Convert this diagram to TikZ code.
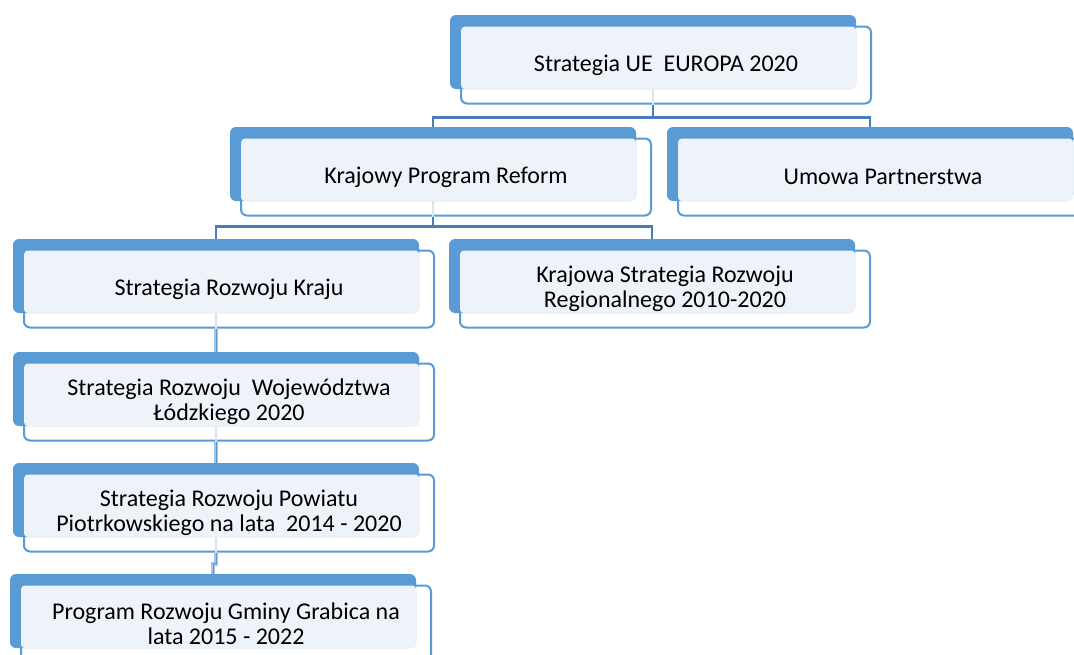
\documentclass[tikz,border=0pt]{standalone}
\usepackage{fontspec}
\setmainfont{Carlito}
\definecolor{bblue}{HTML}{5B9BD5}
\definecolor{lfill}{HTML}{EEF3FA}
\definecolor{cline}{HTML}{4A7EBB}
\definecolor{cline2}{HTML}{A7C3E3}
\definecolor{faintc}{HTML}{D9E5F2}
\newcommand\diagbox[4]{%
  \node[frontbox] (f#1) at (#2+216, #3+50) {};
  \node[backbox] (k#1) at (#2+203, #3+37) {};
  \fill[lfill, rounded corners=4pt] ([shift={(1pt,-1pt)}]f#1.north west) rectangle (k#1.south east);
  \node[txt] (t#1) at (f#1) {#4};
}
\begin{document}
\begin{tikzpicture}[x=1pt,y=-1pt,
  backbox/.style={fill=bblue, rounded corners=6pt, minimum width=406pt, minimum height=74pt, inner sep=0pt, draw=none},
  frontbox/.style={fill=white, draw=bblue, line width=2pt, rounded corners=6pt, minimum width=410pt, minimum height=77pt, inner sep=0pt},
  txt/.style={align=center, font=\fontsize{24}{25}\selectfont, text=black, inner sep=0pt},
  conn/.style={draw=cline, line width=2.5pt},
  chainline/.style={draw=cline2, line width=4pt, postaction={draw=bblue, line width=1pt}},
  faint/.style={draw=faintc, line width=2pt}]
\useasboundingbox (0,0) rectangle (1074,654);
\fill[white] (0,0) rectangle (1074,654);
\diagbox{1}{450}{15}{Strategia UE\ \ EUROPA 2020}
\diagbox{2}{230}{127}{Krajowy Program Reform}
\diagbox{3}{667}{127}{Umowa Partnerstwa}
\diagbox{4}{13}{239}{Strategia Rozwoju Kraju}
\diagbox{5}{449}{239}{Krajowa Strategia Rozwoju\\Regionalnego 2010-2020}
\diagbox{6}{13}{352}{Strategia Rozwoju\ \ Województwa\\Łódzkiego 2020}
\diagbox{7}{13}{463}{Strategia Rozwoju Powiatu\\Piotrkowskiego na lata\ \ 2014 - 2020}
\diagbox{8}{10}{574}{Program Rozwoju Gminy Grabica na\\lata 2015 - 2022}
% faint continuations inside the white parts
\foreach \n in {1,2,4,6,7}{\draw[faint] (k\n.south) -- (k\n.south |- f\n.south);}
% connectors
\draw[conn] (k1.south |- f1.south) -- ++(0,13) coordinate (j1);
\draw[conn] (k2.north) |- (j1) -| (k3.north);
\draw[conn] (k2.south |- f2.south) -- ++(0,10) coordinate (j2);
\draw[conn] (k4.north) |- (j2) -| (k5.north);
\draw[chainline] (k4.south |- f4.south) -- (k6.north);
\draw[chainline] (k6.south |- f6.south) -- (k7.north);
\draw[chainline] (k7.south |- f7.south) -- ++(0,11) -| (k8.north);
\end{tikzpicture}
\end{document}
